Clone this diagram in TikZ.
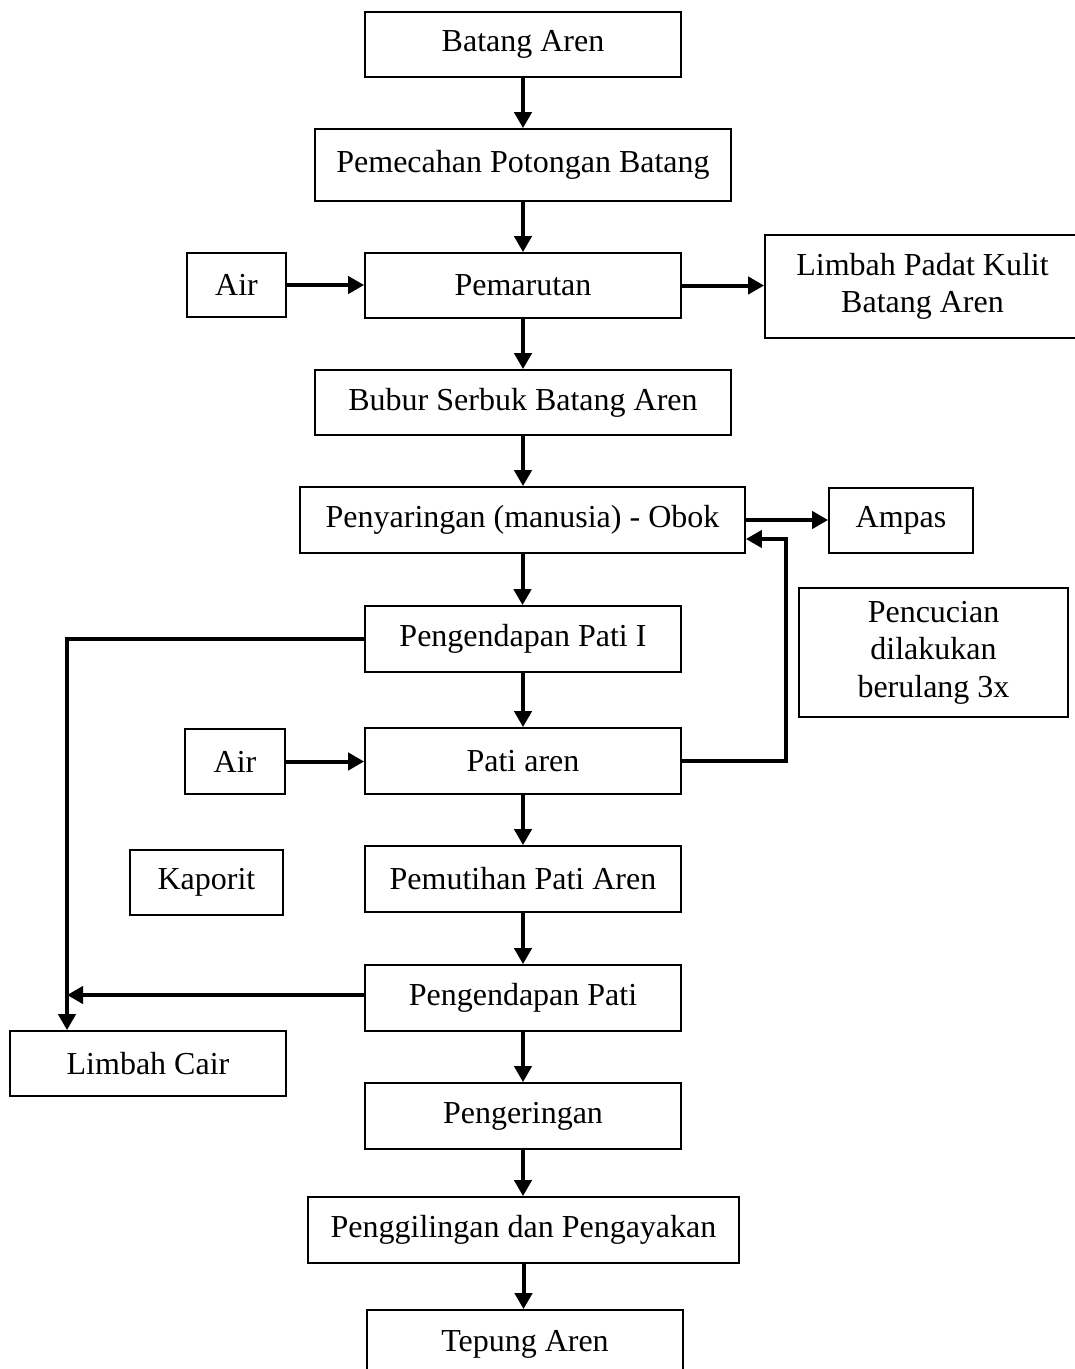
\documentclass[tikz,border=0pt]{standalone}
\usepackage{fontspec}
\setmainfont{Liberation Serif}
\usetikzlibrary{arrows.meta}
\begin{document}
\begin{tikzpicture}[x=1pt,y=-1pt,
  box/.style={draw=black, line width=1.7pt, rectangle, inner sep=0pt, align=center,
    font=\fontsize{32}{37.5}\selectfont},
  arr/.style={line width=4pt, -{Triangle[length=16pt,width=17pt]}}]
\useasboundingbox (0,0) rectangle (1075,1369);
\fill[white] (0,0) rectangle (1075,1369);
% nodes
\node[box, minimum width=316pt, minimum height=65pt] (batang) at (523,44.5) {Batang Aren};
\node[box, minimum width=416pt, minimum height=72pt] (pemecahan) at (523,165) {Pemecahan Potongan Batang};
\node[box, minimum width=99pt, minimum height=64pt] (air1) at (236.5,285) {Air};
\node[box, minimum width=316pt, minimum height=65pt] (pemarutan) at (523,285.5) {Pemarutan};
\node[box, minimum width=315pt, minimum height=103pt] (limbahpadat) at (922.5,286.5) {Limbah Padat Kulit\\Batang Aren};
\node[box, minimum width=416pt, minimum height=65pt] (bubur) at (523,402.5) {Bubur Serbuk Batang Aren};
\node[box, minimum width=445pt, minimum height=66pt] (penyaringan) at (522.5,520) {Penyaringan (manusia) - Obok};
\node[box, minimum width=144pt, minimum height=65pt] (ampas) at (901,520.5) {Ampas};
\node[box, minimum width=316pt, minimum height=66pt] (pengendapan1) at (523,639) {Pengendapan Pati I};
\node[box, minimum width=269pt, minimum height=129pt] (pencucian) at (933.5,652.5) {Pencucian\\dilakukan\\berulang 3x};
\node[box, minimum width=100pt, minimum height=65pt] (air2) at (235,761.5) {Air};
\node[box, minimum width=316pt, minimum height=66pt] (pati) at (523,761) {Pati aren};
\node[box, minimum width=153pt, minimum height=65pt] (kaporit) at (206.5,882.5) {Kaporit};
\node[box, minimum width=316pt, minimum height=66pt] (pemutihan) at (523,879) {Pemutihan Pati Aren};
\node[box, minimum width=316pt, minimum height=66pt] (pengendapan) at (523,998) {Pengendapan Pati};
\node[box, minimum width=276pt, minimum height=65pt] (limbahcair) at (148,1063.5) {Limbah Cair};
\node[box, minimum width=316pt, minimum height=66pt] (pengeringan) at (523,1116) {Pengeringan};
\node[box, minimum width=431pt, minimum height=66pt] (penggilingan) at (523.5,1230) {Penggilingan dan Pengayakan};
\node[box, minimum width=316pt, minimum height=68pt] (tepung) at (525,1344) {Tepung Aren};
% coordinates
\coordinate (ret) at (786,539);
\coordinate (bend) at (67,637);
% vertical flow
\draw[arr] (batang.south) -- (batang.south |- pemecahan.north);
\draw[arr] (pemecahan.south) -- (pemecahan.south |- pemarutan.north);
\draw[arr] (pemarutan.south) -- (pemarutan.south |- bubur.north);
\draw[arr] (bubur.south) -- (bubur.south |- penyaringan.north);
\draw[arr] (penyaringan.south) -- (penyaringan.south |- pengendapan1.north);
\draw[arr] (pengendapan1.south) -- (pengendapan1.south |- pati.north);
\draw[arr] (pati.south) -- (pati.south |- pemutihan.north);
\draw[arr] (pemutihan.south) -- (pemutihan.south |- pengendapan.north);
\draw[arr] (pengendapan.south) -- (pengendapan.south |- pengeringan.north);
\draw[arr] (pengeringan.south) -- (pengeringan.south |- penggilingan.north);
\draw[arr] (penggilingan.south) -- (penggilingan.south |- tepung.north);
% side flows
\draw[arr] (air1.east) -- (air1.east -| pemarutan.west);
\draw[arr] (pemarutan.east) -- (pemarutan.east -| limbahpadat.west);
\draw[arr] (penyaringan.east) -- (penyaringan.east -| ampas.west);
\draw[arr] (air2.east) -- (air2.east -| pati.west);
\draw[arr] (pati.east) -| (ret) -- (ret -| penyaringan.east);
\draw[arr] (pengendapan1.west) -| (bend |- limbahcair.north);
\draw[arr] ([yshift=3pt]pengendapan.west) -- ([yshift=3pt]pengendapan.west -| bend);
\end{tikzpicture}
\end{document}
